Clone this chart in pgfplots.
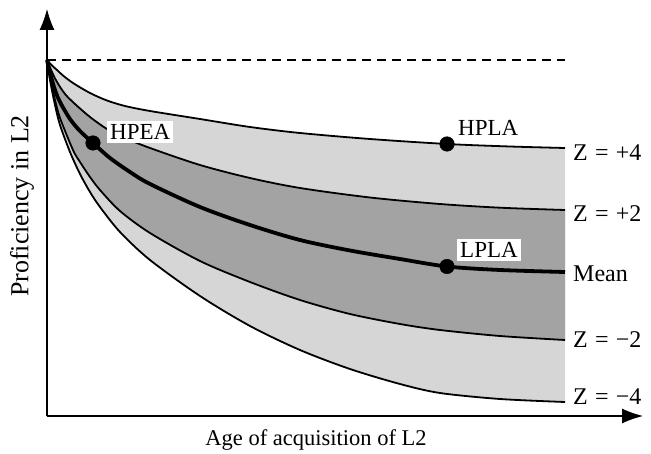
\documentclass[border=0pt]{standalone}
\usepackage{pgfplots}
\pgfplotsset{compat=1.18}
\usepackage{pgfplotstable}
\usepgfplotslibrary{fillbetween}
\usetikzlibrary{arrows.meta}
\usepackage{fontspec}
\setmainfont{Liberation Serif}

\pgfplotstableread{
x y
0 356
5 350.5
10 346
16 340.5
26 333
43 323
60 315.5
78 310
103 305
153 297
203 289
253 283
323 277
400 272
463 269.5
518 268
}\zpfour
\pgfplotstableread{
x y
0 356
5 344
10 334
18 322
28 312
43 299
60 287
78 278
103 268
153 251
203 238
253 228
323 218.5
393 212
453 208.3
518 206
}\zptwo
\pgfplotstableread{
x y
0 356
3 343
8 326
13 314
23 297
33 285
46 273
63 258
83 244
103 232
153 209
203 191
253 176
303 165.5
353 157
400 149.5
453 146
518 144
}\zmean
\pgfplotstableread{
x y
0 356
3 338
8 316
13 298
26 266
33 254
43 239
53 226
73 205
103 183
153 155
203 134
253 116
303 102
353 92
393 86
453 80
518 76
}\zmtwo
\pgfplotstableread{
x y
0 356
3 336
8 311
13 291
23 264
33 242
43 224
53 209
73 184
103 156
153 120
203 90
253 66
303 47
353 32
393 23
453 17
518 14
}\zmfour

\newcommand{\zl}[2]{Z\hspace{0.3em}=\hspace{0.3em}#1#2}

\begin{document}
\begin{tikzpicture}
\begin{axis}[
  scale only axis,
  width=596pt, height=407pt,
  xmin=0, xmax=596, ymin=0, ymax=407,
  axis lines=left,
  axis line style={line width=1.1pt, -{Latex[length=21pt,width=15pt]}},
  xtick=\empty, ytick=\empty,
  clip=false,
  font=\fontsize{23}{27}\selectfont,
]
\addplot[draw=none, name path=p4, smooth] table {\zpfour};
\addplot[draw=none, name path=p2, smooth] table {\zptwo};
\addplot[draw=none, name path=m2, smooth] table {\zmtwo};
\addplot[draw=none, name path=m4, smooth] table {\zmfour};
\addplot[fill=black!16, draw=none] fill between[of=p4 and m4];
\addplot[fill=black!36, draw=none] fill between[of=p2 and m2];

\addplot[black, line width=1.1pt, dash pattern=on 9pt off 6pt] coordinates {(0,356) (518,356)};

\addplot[black, line width=1.8pt, smooth] table {\zpfour};
\addplot[black, line width=1.8pt, smooth] table {\zptwo};
\addplot[black, line width=3.8pt, smooth] table {\zmean};
\addplot[black, line width=1.8pt, smooth] table {\zmtwo};
\addplot[black, line width=1.8pt, smooth] table {\zmfour};

\node[anchor=west, fill=white, inner xsep=3pt, inner ysep=3pt] at (axis cs:60,284) {HPEA};
\node[anchor=west, inner xsep=3pt, inner ysep=3pt] at (axis cs:408,288) {HPLA};
\node[anchor=west, fill=white, inner xsep=3pt, inner ysep=3pt] at (axis cs:410,166) {LPLA};

\addplot[only marks, mark=*, mark size=7.3pt, black] coordinates {(46,273) (400,272) (400,149.5)};

\begin{scope}[every node/.style={anchor=west, inner sep=0pt, font=\fontsize{24}{28}\selectfont}]
\node at (axis cs:526,263.5) {\zl{+}{4}};
\node at (axis cs:526,202.5) {\zl{+}{2}};
\node at (axis cs:526,142) {Mean};
\node at (axis cs:526,76) {\zl{−}{2}};
\node at (axis cs:526,19) {\zl{−}{4}};
\end{scope}

\node[rotate=90, font=\fontsize{26}{30}\selectfont] at (axis cs:-25,210) {Proficiency in L2};
\node[font=\fontsize{22.5}{27}\selectfont] at (axis cs:269,-24) {Age of acquisition of L2};
\end{axis}
\pgfresetboundingbox
\path[use as bounding box] (-47pt,-37pt) rectangle (604pt,416pt);
\end{tikzpicture}
\end{document}
